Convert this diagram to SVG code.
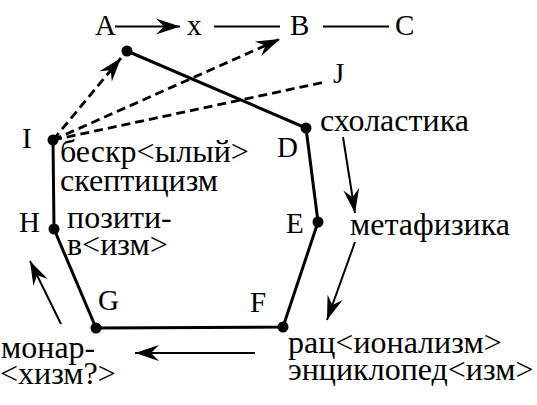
<svg xmlns="http://www.w3.org/2000/svg" width="537" height="405" viewBox="0 0 537 405">
<defs>
<marker id="ah" markerUnits="userSpaceOnUse" markerWidth="30" markerHeight="20" viewBox="-26 -10 30 20" refX="0" refY="0" orient="auto">
<path d="M0,0 L-24,-8 L-16,0 L-24,8 Z" fill="#000"/>
</marker>
</defs>
<style>
text{font-family:"Liberation Serif","DejaVu Serif",serif;font-size:29px;fill:#000}
text.ru{font-size:32px}
.edge{fill:none;stroke:#000;stroke-width:3;stroke-linejoin:round}
.dash{fill:none;stroke:#000;stroke-width:2.8;stroke-dasharray:9 5}
.thin{fill:none;stroke:#000;stroke-width:2}
.dot{fill:#000}
</style>
<g id="connectors">
<polyline class="edge" points="127,51 306,128 318,222 283,327 96,328 54,229 53,140"/>
<line class="thin" x1="115" y1="26.5" x2="180" y2="26.5" marker-end="url(#ah)"/>
<line class="thin" x1="214" y1="26.5" x2="280" y2="26.5"/>
<line class="thin" x1="323" y1="26.5" x2="389" y2="26.5"/>
<line class="dash" x1="53" y1="140" x2="121" y2="58" marker-end="url(#ah)"/>
<line class="dash" x1="53" y1="140" x2="280" y2="39" marker-end="url(#ah)"/>
<line class="dash" x1="53" y1="140" x2="325" y2="82"/>
<line class="thin" x1="343" y1="137" x2="355" y2="213" marker-end="url(#ah)"/>
<line class="thin" x1="355" y1="242" x2="327" y2="320" marker-end="url(#ah)"/>
<line class="thin" x1="255" y1="353" x2="135" y2="353" marker-end="url(#ah)"/>
<line class="thin" x1="61" y1="324" x2="30" y2="261" marker-end="url(#ah)"/>
</g>
<g id="node-A"><text x="95" y="35">A</text></g>
<g id="node-x"><text x="187" y="35">x</text></g>
<g id="node-B"><text x="290" y="35">B</text></g>
<g id="node-C"><text x="395" y="35">C</text></g>
<g id="node-J"><text x="333" y="83">J</text></g>
<g id="node-top"><circle class="dot" cx="127" cy="51" r="5.5"/></g>
<g id="node-D"><circle class="dot" cx="306" cy="128" r="5.5"/><text x="277" y="157">D</text><text class="ru" x="320" y="131">схоластика</text></g>
<g id="node-E"><circle class="dot" cx="318" cy="222" r="5.5"/><text x="286" y="233">E</text><text class="ru" x="350" y="235">метафизика</text></g>
<g id="node-F"><circle class="dot" cx="283" cy="327" r="5.5"/><text x="250" y="312">F</text><text class="ru" x="288" y="353">рац&lt;ионализм&gt;</text><text class="ru" x="288" y="380">энциклопед&lt;изм&gt;</text></g>
<g id="node-G"><circle class="dot" cx="96" cy="328" r="5.5"/><text x="98" y="310">G</text><text class="ru" x="1" y="358">монар-</text><text class="ru" x="0" y="384">&lt;хизм?&gt;</text></g>
<g id="node-H"><circle class="dot" cx="54" cy="229" r="5.5"/><text x="19" y="232">H</text><text class="ru" x="67" y="228">позити-</text><text class="ru" x="67" y="255">в&lt;изм&gt;</text></g>
<g id="node-I"><circle class="dot" cx="53" cy="140" r="5.5"/><text x="22" y="148">I</text><text class="ru" x="60" y="162">бескр&lt;ылый&gt;</text><text class="ru" x="60" y="191">скептицизм</text></g>
</svg>
